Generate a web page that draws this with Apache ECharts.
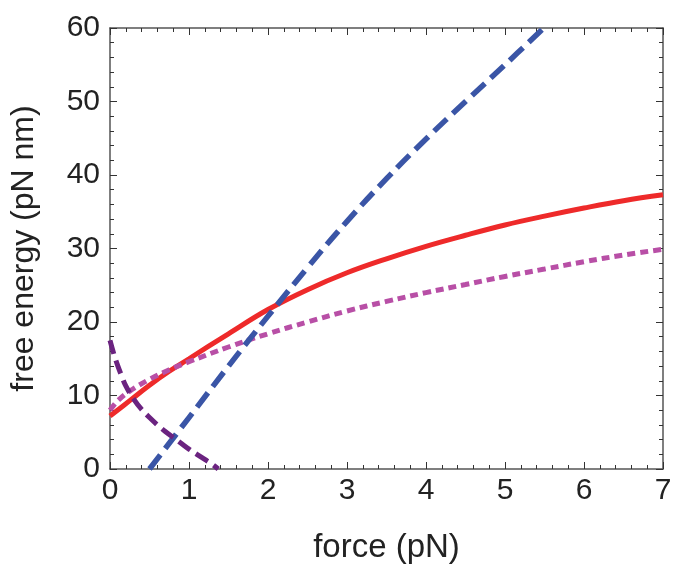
<!DOCTYPE html>
<html>
<head>
<meta charset="utf-8">
<script src="https://cdn.jsdelivr.net/npm/echarts@6/dist/echarts.min.js"></script>
<style>
html,body{margin:0;padding:0;background:#fff;}
#chart{width:683px;height:579px;}
</style>
</head>
<body>
<div id="chart"></div>
<script>
// Red solid curve
var redForce  = [0, 0.25, 0.5, 0.75, 1, 1.5, 2, 2.5, 3, 3.5, 4, 4.5, 5, 5.5, 6, 6.5, 7];
var redEnergy = [7.2, 9.3, 11.4, 13.3, 15.0, 18.4, 21.7, 24.4, 26.7, 28.6, 30.3, 31.8, 33.2, 34.4, 35.5, 36.5, 37.3];

// Magenta dotted curve
var magentaForce  = [0, 0.1, 0.25, 0.5, 0.75, 1, 1.5, 2, 2.5, 3, 3.5, 4, 4.5, 5, 5.5, 6, 6.5, 7];
var magentaEnergy = [8.0, 9.3, 10.6, 12.2, 13.5, 14.6, 16.6, 18.4, 20.0, 21.5, 22.8, 24.0, 25.1, 26.2, 27.2, 28.2, 29.1, 29.9];

// Blue dashed curve
var blueForce  = [0.5, 1, 1.5, 2, 2.5, 3, 3.5, 4, 4.5, 5, 5.49];
var blueEnergy = [0, 7.0, 14.0, 20.8, 27.4, 33.7, 39.5, 44.9, 50.0, 55.0, 60];

// Purple dashed curve
var purpleForce  = [0, 0.05, 0.1, 0.15, 0.2, 0.3, 0.4, 0.5, 0.6, 0.7, 0.8, 0.9, 1.0, 1.1, 1.2, 1.3, 1.37];
var purpleEnergy = [17.5, 15.6, 14.0, 12.6, 11.3, 9.5, 8.1, 7.0, 6.0, 5.1, 4.3, 3.5, 2.7, 2.0, 1.3, 0.6, 0];

// Axis ticks
var xTicks = [0, 1, 2, 3, 4, 5, 6, 7];
var yTicks = [0, 10, 20, 30, 40, 50, 60];

function pairs(xs, ys) { return xs.map(function (x, i) { return [x, ys[i]]; }); }

var font = '"Liberation Sans", Arial, Helvetica, sans-serif';
var axisColor = '#555';

function baseAxis(extra) {
  var a = {
    type: 'value',
    axisLine: { show: true, onZero: false, lineStyle: { color: axisColor, width: 1.5 } },
    axisTick: { show: true, inside: true, length: 7, lineStyle: { color: '#333', width: 1 } },
    minorTick: { show: true, splitNumber: 5, length: 4, lineStyle: { color: '#333', width: 1 } },
    splitLine: { show: false },
    minorSplitLine: { show: false }
  };
  for (var k in extra) a[k] = extra[k];
  return a;
}

var chart = echarts.init(document.getElementById('chart'), null, { renderer: 'canvas' });
chart.setOption({
  animation: false,
  backgroundColor: '#fff',
  grid: { left: 109, right: 20, top: 28, bottom: 110, containLabel: false },
  xAxis: [
    baseAxis({
      position: 'bottom', min: xTicks[0], max: xTicks[xTicks.length - 1], interval: 1,
      axisLabel: { show: true, fontSize: 30, fontFamily: font, color: '#222', margin: 7 },
      name: 'force (pN)', nameLocation: 'middle', nameGap: 62,
      nameTextStyle: { fontSize: 33, fontFamily: font, color: '#222' }
    }),
    baseAxis({
      position: 'top', min: xTicks[0], max: xTicks[xTicks.length - 1], interval: 1,
      axisLabel: { show: false }
    })
  ],
  yAxis: [
    baseAxis({
      position: 'left', min: yTicks[0], max: yTicks[yTicks.length - 1], interval: 10,
      axisLabel: { show: true, fontSize: 30, fontFamily: font, color: '#222', margin: 10 },
      name: 'free energy (pN nm)', nameLocation: 'middle', nameGap: 70, nameRotate: 90,
      nameTextStyle: { fontSize: 32, fontFamily: font, color: '#222' }
    }),
    baseAxis({
      position: 'right', min: yTicks[0], max: yTicks[yTicks.length - 1], interval: 10,
      axisLabel: { show: false }
    })
  ],
  series: [
    {
      type: 'line', name: 'red', data: pairs(redForce, redEnergy),
      smooth: 0.4, showSymbol: false, clip: true,
      lineStyle: { color: '#EE2A2A', width: 5, type: 'solid' }
    },
    {
      type: 'line', name: 'magenta', data: pairs(magentaForce, magentaEnergy),
      smooth: 0.4, showSymbol: false, clip: true,
      lineStyle: { color: '#B84FA6', width: 5, type: [8, 5] }
    },
    {
      type: 'line', name: 'blue', data: pairs(blueForce, blueEnergy),
      smooth: 0.4, showSymbol: false, clip: true,
      lineStyle: { color: '#3A55A6', width: 5.5, type: [18, 8] }
    },
    {
      type: 'line', name: 'purple', data: pairs(purpleForce, purpleEnergy),
      smooth: 0.4, showSymbol: false, clip: true,
      lineStyle: { color: '#6B2380', width: 5, type: [14, 7] }
    }
  ]
});
</script>
</body>
</html>
